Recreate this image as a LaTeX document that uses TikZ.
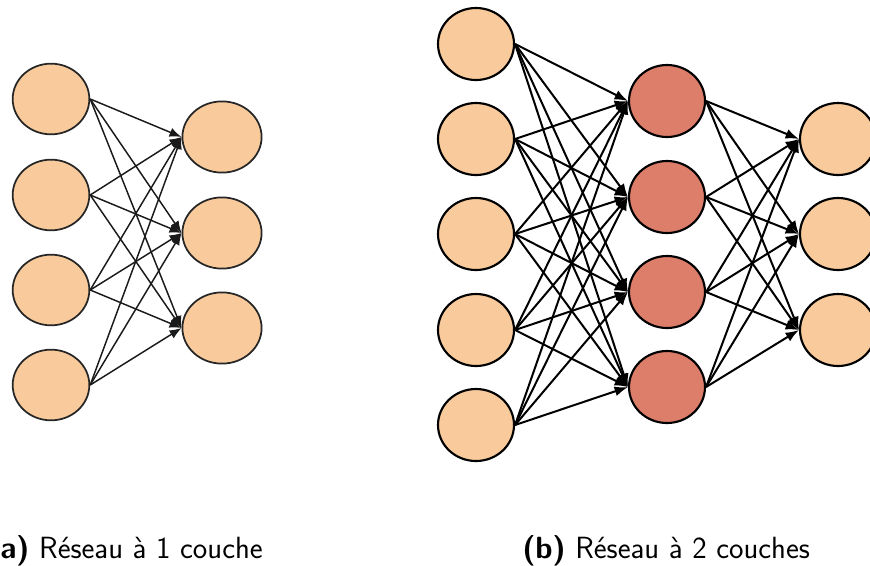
\documentclass[tikz,border=0pt]{standalone}
\usetikzlibrary{arrows.meta,shapes.geometric}
\definecolor{peach}{HTML}{F9CB9C}
\definecolor{berry}{HTML}{DD7E6B}
\definecolor{edgegray}{HTML}{1A1A1A}
\begin{document}
\begin{tikzpicture}[x=0.75pt,y=-0.75pt,
  nA/.style={ellipse,draw=black!85,line width=1.3pt,fill=peach,inner sep=0pt,minimum width=57.5pt,minimum height=53pt},
  nAo/.style={nA,minimum width=59.4pt,minimum height=53.4pt},
  nB/.style={ellipse,draw=black,line width=1.6pt,fill=peach,inner sep=0pt,minimum width=57pt,minimum height=54pt},
  nH/.style={nB,fill=berry},
  edgeA/.style={draw=edgegray,line width=1.1pt,-{Latex[length=9pt,width=7pt]}},
  edgeB/.style={draw=black,line width=1.5pt,-{Latex[length=10pt,width=7.5pt]}},
  captext/.style={inner sep=0pt,font=\sffamily\fontsize{23}{26}\selectfont}
]
\useasboundingbox (0,0) rectangle (870,565);
% left network
\node[nA] (a1) at (51,99) {};
\node[nA] (a2) at (51,195) {};
\node[nA] (a3) at (51,290) {};
\node[nA] (a4) at (51,385) {};
\node[nAo] (b1) at (222,137) {};
\node[nAo] (b2) at (222,233) {};
\node[nAo] (b3) at (222,328) {};
\foreach \i in {1,...,4}
  \foreach \j in {1,...,3}
    \draw[edgeA] (a\i.east) -- (b\j.west);
% right network
\node[nB] (i1) at (476,44) {};
\node[nB] (i2) at (476,139) {};
\node[nB] (i3) at (476,234) {};
\node[nB] (i4) at (476,330) {};
\node[nB] (i5) at (476,425) {};
\node[nH] (h1) at (667,101) {};
\node[nH] (h2) at (667,197) {};
\node[nH] (h3) at (667,292) {};
\node[nH] (h4) at (667,387) {};
\node[nB] (o1) at (838,139) {};
\node[nB] (o2) at (838,234) {};
\node[nB] (o3) at (838,330) {};
\foreach \i in {1,...,5}
  \foreach \j in {1,...,4}
    \draw[edgeB] (i\i.east) -- (h\j.west);
\foreach \i in {1,...,4}
  \foreach \j in {1,...,3}
    \draw[edgeB] (h\i.east) -- (o\j.west);
% captions
\node[captext,anchor=base east] (capa) at (263,558) {\textbf{(a)} Réseau à 1 couche};
\node[captext,anchor=base west] (capb) at (522,558) {\textbf{(b)} Réseau à 2 couches};
\end{tikzpicture}
\end{document}
